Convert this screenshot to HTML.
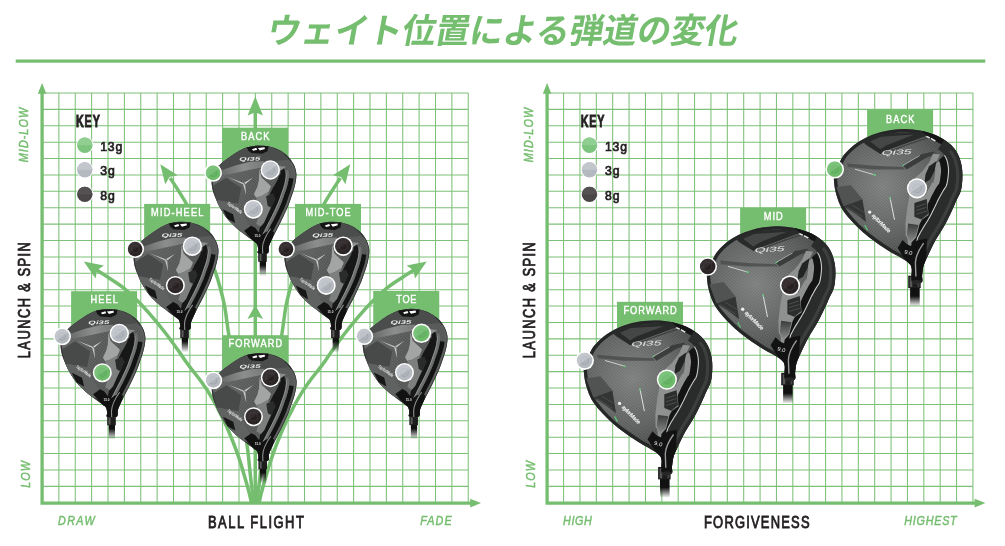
<!DOCTYPE html>
<html lang="ja"><head><meta charset="utf-8"><title>ウェイト位置による弾道の変化</title>
<style>
html,body{margin:0;padding:0;background:#fff;}
svg{display:block;font-family:"Liberation Sans",sans-serif;will-change:transform;}
</style></head><body>
<svg width="1005" height="546" viewBox="0 0 1005 546">
<defs>

<pattern id="cf" width="2.2" height="2.2" patternUnits="userSpaceOnUse" patternTransform="rotate(38)"><rect width="1.1" height="1.1" fill="#fff" opacity=".09"/><rect x="1.1" y="1.1" width="1.1" height="1.1" fill="#000" opacity=".1"/></pattern>
<linearGradient id="shaftfade" x1="0" y1="0" x2="0" y2="1"><stop offset="0" stop-color="#111"/><stop offset=".55" stop-color="#111"/><stop offset="1" stop-color="#111" stop-opacity="0"/></linearGradient>
<linearGradient id="shaftfade2" x1="0" y1="0" x2="0" y2="1"><stop offset="0" stop-color="#111"/><stop offset=".6" stop-color="#111"/><stop offset="1" stop-color="#111" stop-opacity="0"/></linearGradient>
<linearGradient id="fwbody" gradientUnits="userSpaceOnUse" x1="-10" y1="40" x2="75" y2="70"><stop offset="0" stop-color="#676a69"/><stop offset=".5" stop-color="#585b5a"/><stop offset="1" stop-color="#555857"/></linearGradient>
<linearGradient id="fwband" gradientUnits="userSpaceOnUse" x1="0" y1="45" x2="44" y2="35"><stop offset="0" stop-color="#6a6d6c"/><stop offset=".5" stop-color="#8b8e8d"/><stop offset="1" stop-color="#747776"/></linearGradient>
<radialGradient id="drbody" gradientUnits="userSpaceOnUse" cx="16" cy="76" r="76"><stop offset="0" stop-color="#808381"/><stop offset=".6" stop-color="#636664"/><stop offset="1" stop-color="#4b4d4c"/></radialGradient>
<linearGradient id="drrec" x1="0" y1="0" x2="0" y2="1"><stop offset="0" stop-color="#3a3b3b"/><stop offset="1" stop-color="#8a8c8b"/></linearGradient>
<g id="fw"><clipPath id="fwc"><path d="M-10.5 50C-10.1 47.08 -8.88 44.67 -7.5 42.5C-6.12 40.33 -4.37 38.93 -2.2 37C-0.03 35.07 2.75 32.93 5.5 30.9C8.25 28.87 11.18 26.63 14.3 24.8C17.42 22.97 20.73 21.05 24.2 19.9C27.67 18.75 31.45 18.12 35.1 17.9C38.75 17.68 42.43 17.85 46.1 18.6C49.77 19.35 53.8 20.72 57.1 22.4C60.4 24.08 63.52 26.37 65.9 28.7C68.28 31.03 70.02 33.65 71.4 36.4C72.78 39.15 73.83 42.27 74.2 45.2C74.57 48.13 74.02 51.2 73.6 54C73.18 56.8 72.42 59.5 71.7 62C70.98 64.5 70.17 66.5 69.3 69C68.43 71.5 67.55 74.32 66.5 77C65.45 79.68 64.25 82.35 63 85.1C61.75 87.85 60.33 90.82 59 93.5C57.67 96.18 56.2 98.87 55 101.2C53.8 103.53 52.78 105.53 51.8 107.5C50.82 109.47 49.93 111.17 49.1 113C48.27 114.83 47.38 116.42 46.8 118.5C46.22 120.58 47.38 124.33 45.6 125.5C43.82 126.67 37.68 126.08 36.1 125.5C34.52 124.92 36.28 123.5 36.1 122C35.92 120.5 35.82 117.97 35 116.5C34.18 115.03 32.93 114.57 31.2 113.2C29.47 111.83 27.42 110.47 24.6 108.3C21.78 106.13 17.48 103.02 14.3 100.2C11.12 97.38 8.25 94.8 5.5 91.4C2.75 88 -0.08 83.57 -2.2 79.8C-4.32 76.03 -5.92 72.1 -7.2 68.8C-8.48 65.5 -9.35 63.13 -9.9 60C-10.45 56.87 -10.9 52.92 -10.5 50Z"/></clipPath><rect x="37.6" y="124" width="6.3" height="24.5" fill="url(#shaftfade)"/><rect x="36.1" y="125.3" width="8.6" height="8.8" fill="#1d1d1d"/><rect x="37.4" y="126.3" width="2" height="7" fill="#5a5a5a"/><path d="M-10.5 50C-10.1 47.08 -8.88 44.67 -7.5 42.5C-6.12 40.33 -4.37 38.93 -2.2 37C-0.03 35.07 2.75 32.93 5.5 30.9C8.25 28.87 11.18 26.63 14.3 24.8C17.42 22.97 20.73 21.05 24.2 19.9C27.67 18.75 31.45 18.12 35.1 17.9C38.75 17.68 42.43 17.85 46.1 18.6C49.77 19.35 53.8 20.72 57.1 22.4C60.4 24.08 63.52 26.37 65.9 28.7C68.28 31.03 70.02 33.65 71.4 36.4C72.78 39.15 73.83 42.27 74.2 45.2C74.57 48.13 74.02 51.2 73.6 54C73.18 56.8 72.42 59.5 71.7 62C70.98 64.5 70.17 66.5 69.3 69C68.43 71.5 67.55 74.32 66.5 77C65.45 79.68 64.25 82.35 63 85.1C61.75 87.85 60.33 90.82 59 93.5C57.67 96.18 56.2 98.87 55 101.2C53.8 103.53 52.78 105.53 51.8 107.5C50.82 109.47 49.93 111.17 49.1 113C48.27 114.83 47.38 116.42 46.8 118.5C46.22 120.58 47.38 124.33 45.6 125.5C43.82 126.67 37.68 126.08 36.1 125.5C34.52 124.92 36.28 123.5 36.1 122C35.92 120.5 35.82 117.97 35 116.5C34.18 115.03 32.93 114.57 31.2 113.2C29.47 111.83 27.42 110.47 24.6 108.3C21.78 106.13 17.48 103.02 14.3 100.2C11.12 97.38 8.25 94.8 5.5 91.4C2.75 88 -0.08 83.57 -2.2 79.8C-4.32 76.03 -5.92 72.1 -7.2 68.8C-8.48 65.5 -9.35 63.13 -9.9 60C-10.45 56.87 -10.9 52.92 -10.5 50Z" fill="url(#fwbody)"/><path d="M-10.5 50C-10.1 47.08 -8.88 44.67 -7.5 42.5C-6.12 40.33 -4.37 38.93 -2.2 37C-0.03 35.07 2.75 32.93 5.5 30.9C8.25 28.87 11.18 26.63 14.3 24.8C17.42 22.97 20.73 21.05 24.2 19.9C27.67 18.75 31.45 18.12 35.1 17.9C38.75 17.68 42.43 17.85 46.1 18.6C49.77 19.35 53.8 20.72 57.1 22.4C60.4 24.08 63.52 26.37 65.9 28.7C68.28 31.03 70.02 33.65 71.4 36.4C72.78 39.15 73.83 42.27 74.2 45.2C74.57 48.13 74.02 51.2 73.6 54C73.18 56.8 72.42 59.5 71.7 62C70.98 64.5 70.17 66.5 69.3 69C68.43 71.5 67.55 74.32 66.5 77C65.45 79.68 64.25 82.35 63 85.1C61.75 87.85 60.33 90.82 59 93.5C57.67 96.18 56.2 98.87 55 101.2C53.8 103.53 52.78 105.53 51.8 107.5C50.82 109.47 49.93 111.17 49.1 113C48.27 114.83 47.38 116.42 46.8 118.5C46.22 120.58 47.38 124.33 45.6 125.5C43.82 126.67 37.68 126.08 36.1 125.5C34.52 124.92 36.28 123.5 36.1 122C35.92 120.5 35.82 117.97 35 116.5C34.18 115.03 32.93 114.57 31.2 113.2C29.47 111.83 27.42 110.47 24.6 108.3C21.78 106.13 17.48 103.02 14.3 100.2C11.12 97.38 8.25 94.8 5.5 91.4C2.75 88 -0.08 83.57 -2.2 79.8C-4.32 76.03 -5.92 72.1 -7.2 68.8C-8.48 65.5 -9.35 63.13 -9.9 60C-10.45 56.87 -10.9 52.92 -10.5 50Z" fill="url(#cf)"/><g clip-path="url(#fwc)"><path d="M-10.5 50C-10.1 47.08 -8.88 44.67 -7.5 42.5C-6.12 40.33 -4.37 38.93 -2.2 37C-0.03 35.07 2.75 32.93 5.5 30.9C8.25 28.87 11.18 26.63 14.3 24.8C17.42 22.97 20.73 21.05 24.2 19.9C27.67 18.75 31.45 18.12 35.1 17.9C38.75 17.68 42.43 17.85 46.1 18.6C49.77 19.35 53.8 20.72 57.1 22.4C60.4 24.08 63.52 26.37 65.9 28.7C68.28 31.03 70.02 33.65 71.4 36.4C72.78 39.15 73.83 42.27 74.2 45.2C74.57 48.13 74.02 51.2 73.6 54C73.18 56.8 72.42 59.5 71.7 62C70.98 64.5 70.17 66.5 69.3 69C68.43 71.5 67.55 74.32 66.5 77C65.45 79.68 64.25 82.35 63 85.1C61.75 87.85 60.33 90.82 59 93.5C57.67 96.18 56.2 98.87 55 101.2C53.8 103.53 52.78 105.53 51.8 107.5C50.82 109.47 49.93 111.17 49.1 113C48.27 114.83 47.38 116.42 46.8 118.5C46.22 120.58 47.38 124.33 45.6 125.5C43.82 126.67 37.68 126.08 36.1 125.5C34.52 124.92 36.28 123.5 36.1 122C35.92 120.5 35.82 117.97 35 116.5C34.18 115.03 32.93 114.57 31.2 113.2C29.47 111.83 27.42 110.47 24.6 108.3C21.78 106.13 17.48 103.02 14.3 100.2C11.12 97.38 8.25 94.8 5.5 91.4C2.75 88 -0.08 83.57 -2.2 79.8C-4.32 76.03 -5.92 72.1 -7.2 68.8C-8.48 65.5 -9.35 63.13 -9.9 60C-10.45 56.87 -10.9 52.92 -10.5 50Z" fill="none" stroke="#343635" stroke-width="2.8"/><path d="M-4 38L10 26L26 19L46 18L60 24L66 32L56 33L38 34L18 40L2 46Z" fill="#4a4d4c"/><path d="M-2 43L14 37.5L28 34L42 33.5L43 39L28 42L12 45.5L0 47.5Z" fill="url(#fwband)"/><path d="M-9 58L4 50L19 60L16 76L4 74L-6 72Z" fill="#474a49"/><path d="M-8 72L4 74L16 76L24 92L32 108L20 106L4 92Z" fill="#5f6261"/><path d="M68.99 33.87L69.98 35.34L70.78 36.72L71.42 38.09L72.01 39.5L72.52 40.95L72.94 42.4L73.27 43.85L73.5 45.28L73.61 46.7L73.6 48.14L73.5 49.58L73.33 51.04L73.12 52.48L72.91 53.89L72.68 55.26L72.4 56.61L72.08 57.94L71.74 59.26L71.39 60.54L71.03 61.8L70.67 63L70.29 64.15L69.9 65.27L69.49 66.39L69.07 67.55L68.64 68.77L68.2 70.05L67.76 71.37L67.31 72.7L66.84 74.06L66.36 75.41L65.85 76.75L65.32 78.08L64.76 79.41L64.18 80.75L63.59 82.09L62.98 83.44L62.36 84.81L61.73 86.2L61.07 87.61L60.4 89.02L59.72 90.44L59.04 91.83L58.37 93.19L57.7 94.52L57.02 95.85L56.33 97.16L55.65 98.44L55 99.68L54.38 100.88L53.79 102.02L53.23 103.12L52.69 104.17L52.18 105.2L51.67 106.2L51.17 107.19L50.69 108.15L50.22 109.08L49.77 109.99L49.32 110.89L48.89 111.79L48.47 112.7L48.05 113.6L47.63 114.48L47.22 115.37L46.82 116.29L46.45 117.27L46.12 118.32L45.84 119.52L45.58 120.86L43.61 120.52L43.88 119.1L44.2 117.79L44.56 116.62L44.97 115.55L45.39 114.56L45.82 113.63L46.24 112.75L46.65 111.86L47.08 110.94L47.52 110.01L47.98 109.1L48.44 108.18L48.9 107.25L49.39 106.29L49.88 105.3L50.39 104.29L50.91 103.26L51.45 102.21L52.01 101.11L52.6 99.96L53.23 98.75L53.89 97.5L54.56 96.22L55.24 94.92L55.92 93.61L56.58 92.29L57.25 90.95L57.92 89.57L58.59 88.16L59.26 86.76L59.91 85.36L60.54 83.98L61.16 82.62L61.76 81.28L62.35 79.95L62.92 78.63L63.46 77.32L63.98 76.02L64.48 74.71L64.95 73.39L65.41 72.06L65.86 70.73L66.31 69.41L66.75 68.11L67.19 66.88L67.61 65.71L68.01 64.6L68.4 63.5L68.76 62.4L69.11 61.24L69.46 60L69.81 58.74L70.14 57.46L70.45 56.18L70.71 54.89L70.93 53.57L71.14 52.19L71.34 50.78L71.51 49.4L71.6 48.06L71.61 46.77L71.52 45.52L71.31 44.24L71.01 42.91L70.61 41.56L70.14 40.22L69.59 38.89L69.01 37.65L68.29 36.4L67.36 35.03Z" fill="#5d5f5e"/><path d="M71.34 50.78L71.14 52.19L70.93 53.57L70.71 54.89L70.45 56.18L70.14 57.46L69.81 58.74L69.46 60L69.11 61.24L68.76 62.4L68.4 63.5L68.01 64.6L67.61 65.71L67.19 66.88L66.75 68.11L66.31 69.41L65.86 70.73L65.41 72.06L64.95 73.39L64.48 74.71L63.98 76.02L63.46 77.32L62.92 78.63L62.35 79.95L61.76 81.28L61.16 82.62L60.54 83.98L59.91 85.36L59.26 86.76L58.59 88.16L57.92 89.57L57.25 90.95L56.58 92.29L55.92 93.61L55.24 94.92L54.56 96.22L53.89 97.5L53.23 98.75L52.6 99.96L52.01 101.11L51.45 102.21L50.91 103.26L50.39 104.29L49.88 105.3L49.39 106.29L48.9 107.25L48.44 108.18L47.98 109.1L47.52 110.01L47.08 110.94L46.65 111.86L46.24 112.75L45.82 113.63L45.39 114.56L44.97 115.55L44.56 116.62L44.2 117.79L43.88 119.1L43.61 120.52L43.39 121.94L43.2 123.25L43.05 124.33L42.93 125.1L38.28 124.39L38.39 123.66L38.54 122.59L38.74 121.23L38.98 119.71L39.28 118.13L39.66 116.55L40.12 115.08L40.61 113.79L41.1 112.64L41.56 111.63L41.99 110.75L42.39 109.88L42.83 108.93L43.3 107.96L43.77 107.01L44.24 106.07L44.71 105.14L45.19 104.18L45.68 103.19L46.2 102.17L46.72 101.14L47.26 100.07L47.83 98.97L48.43 97.8L49.06 96.58L49.73 95.31L50.4 94.04L51.07 92.76L51.73 91.48L52.38 90.2L53.03 88.88L53.69 87.52L54.35 86.14L55.01 84.76L55.65 83.39L56.27 82.03L56.87 80.69L57.47 79.37L58.04 78.07L58.59 76.79L59.11 75.54L59.61 74.31L60.07 73.09L60.52 71.83L60.97 70.54L61.41 69.22L61.86 67.9L62.31 66.57L62.76 65.29L63.19 64.11L63.58 63.02L63.95 61.99L64.28 60.99L64.6 59.92L64.94 58.74L65.27 57.52L65.58 56.33L65.86 55.16L66.09 54.03L66.29 52.83L66.49 51.5L66.68 50.18Z" fill="#131313"/><path d="M65.75 41.89L66.14 43L66.46 44.09L66.7 45.14L66.85 46.07L66.92 46.93L66.91 47.87L66.83 48.96L66.68 50.18L66.49 51.5L66.29 52.83L66.09 54.03L65.86 55.16L65.58 56.33L65.27 57.52L64.94 58.74L64.6 59.92L64.28 60.99L63.95 61.99L63.58 63.02L63.19 64.11L62.76 65.29L62.31 66.57L61.86 67.9L61.41 69.22L60.97 70.54L60.52 71.83L60.07 73.09L59.61 74.31L59.11 75.54L58.59 76.79L58.04 78.07L57.47 79.37L56.87 80.69L56.27 82.03L55.65 83.39L55.01 84.76L54.35 86.14L53.69 87.52L53.03 88.88L52.38 90.2L51.73 91.48L51.07 92.76L50.4 94.04L49.73 95.31L49.06 96.58L48.43 97.8L47.83 98.97L47.26 100.07L46.72 101.14L46.2 102.17L45.68 103.19L45.19 104.18L44.71 105.14L44.24 106.07L43.77 107.01L43.3 107.96L42.83 108.93L42.39 109.88L41.99 110.75L41.56 111.63L41.1 112.64L40.61 113.79L40.12 115.08L39.66 116.55L39.28 118.13L38.98 119.71L38.74 121.23L38.54 122.59L38.39 123.66L38.28 124.39L35.12 123.91L35.23 123.2L35.38 122.14L35.58 120.75L35.83 119.17L36.15 117.46L36.58 115.7L37.09 114.04L37.64 112.6L38.17 111.34L38.67 110.27L39.09 109.38L39.49 108.53L39.94 107.57L40.42 106.56L40.9 105.58L41.38 104.63L41.85 103.7L42.33 102.75L42.82 101.75L43.34 100.73L43.87 99.69L44.41 98.61L44.98 97.51L45.58 96.34L46.23 95.09L46.9 93.82L47.57 92.55L48.23 91.28L48.88 90.02L49.51 88.77L50.15 87.47L50.81 86.13L51.46 84.77L52.11 83.4L52.74 82.04L53.36 80.7L53.96 79.37L54.55 78.06L55.11 76.79L55.64 75.54L56.15 74.33L56.62 73.15L57.07 71.98L57.5 70.77L57.94 69.51L58.38 68.2L58.83 66.87L59.29 65.52L59.75 64.22L60.18 63.02L60.57 61.95L60.92 60.96L61.23 60.02L61.53 59.02L61.85 57.87L62.18 56.7L62.47 55.56L62.73 54.47L62.95 53.44L63.13 52.32L63.33 51.04L63.51 49.77L63.64 48.66L63.71 47.74L63.72 47.03L63.67 46.45L63.56 45.75L63.36 44.9L63.09 43.99L62.76 43.04Z" fill="#6b6e6d"/><path d="M60.92 39.6L61.59 40.59L62.01 41.32L62.37 42.08L62.76 43.04L63.09 43.99L63.36 44.9L63.56 45.75L63.67 46.45L63.72 47.03L63.71 47.74L63.64 48.66L63.51 49.77L63.33 51.04L63.13 52.32L62.95 53.44L62.73 54.47L62.47 55.56L62.18 56.7L61.85 57.87L61.53 59.02L61.23 60.02L60.92 60.96L60.57 61.95L60.18 63.02L59.75 64.22L59.29 65.52L58.83 66.87L58.38 68.2L57.94 69.51L57.5 70.77L57.07 71.98L56.62 73.15L56.15 74.33L55.64 75.54L55.11 76.79L54.55 78.06L53.96 79.37L53.36 80.7L52.74 82.04L52.11 83.4L51.46 84.77L50.81 86.13L50.15 87.47L49.51 88.77L48.88 90.02L48.23 91.28L47.57 92.55L46.9 93.82L46.23 95.09L45.58 96.34L44.98 97.51L44.41 98.61L43.87 99.69L43.34 100.73L42.82 101.75L42.33 102.75L41.85 103.7L41.38 104.63L40.9 105.58L40.42 106.56L39.94 107.57L39.49 108.53L39.09 109.38L38.67 110.27L38.17 111.34L37.64 112.6L37.18 112.41L36.85 110.75L36.78 109.39L36.73 108.27L36.7 107.23L36.77 106.07L36.93 104.86L37.09 103.69L37.27 102.57L37.45 101.49L37.64 100.4L37.87 99.26L38.13 98.1L38.41 96.92L38.72 95.71L39.06 94.47L39.44 93.16L39.87 91.77L40.33 90.37L40.79 88.98L41.23 87.63L41.64 86.33L42.04 85.04L42.45 83.7L42.88 82.3L43.32 80.89L43.75 79.47L44.17 78.08L44.58 76.7L44.98 75.32L45.36 73.98L45.71 72.69L46.03 71.47L46.3 70.3L46.53 69.22L46.76 68.18L47.32 67.18L47.91 66.08L48.52 64.88L49.16 63.59L49.83 62.23L50.51 60.91L51.15 59.76L51.72 58.8L52.22 58L52.67 57.32L53.13 56.55L53.64 55.57L54.15 54.55L54.63 53.62L55.07 52.78L55.47 52.03L55.86 51.16L56.28 50L56.7 48.88L57.06 48.04L57.38 47.49L57.66 47.24L57.94 47.13L58.18 46.81L58.35 46.21L58.47 45.48L58.53 44.65L58.54 43.77L58.63 43.08L58.7 42.4L58.48 41.32Z" fill="#171717"/><path d="M63.75 44.8L63.95 45.68L64.07 46.4L64.12 47.02L64.11 47.76L64.04 48.7L63.91 49.82L63.72 51.1L63.53 52.39L63.34 53.51L63.12 54.56L62.86 55.66L62.57 56.8L62.24 57.98L61.91 59.13L61.61 60.14L61.29 61.09L60.95 62.08L60.56 63.16L60.13 64.35L59.67 65.65L59.2 67L58.76 68.33L58.32 69.63L57.88 70.9L57.44 72.12L57 73.3L56.52 74.48L56.01 75.7L55.48 76.95L54.91 78.23L54.32 79.54L53.72 80.87L53.1 82.21L52.47 83.57L51.82 84.94L51.17 86.3L50.51 87.65L49.87 88.95L49.24 90.2L48.59 91.46L47.92 92.73L47.25 94.01L46.58 95.28L45.94 96.52L45.34 97.69L44.77 98.8L44.22 99.87L43.7 100.91L43.18 101.93L42.68 102.93L42.2 103.88L41.73 104.81L41.26 105.76L40.78 106.73L40.3 107.74L39.85 108.7L39.45 109.55L39.03 110.44L38.54 111.5L38.01 112.74L37.47 114.17L36.96 115.81L36.54 117.55L36.22 119.24L35.97 120.81" fill="none" stroke="#9c9f9e" stroke-width=".8"/><path d="M22 103L29 98L33 100L36 104L40 107L44 104L52 104L48 130L34 130L34 116L30 112Z" fill="#121212"/><path d="M48.5 101C43.5 108 40.6 114 40.4 120L40.6 126" fill="none" stroke="#8e908f" stroke-width="1.1"/><path d="M37.3 41.4L39.5 49.7L46.6 56.3L48.8 58.5L46.6 64L39.5 68.4L34 70L31.8 66.2L35.1 59.6L36.7 53Z" fill="#a3a5a4"/><path d="M46.6 64L39.5 68.4L34 70L36 76L41 80L44 74Z" fill="#7d807f"/><path d="M55 38L64 39L58.5 43L57 41Z" fill="#8a8d8c"/><path d="M39.5 71L48.3 66.6L50.5 76.5L46 86L42 95L38.5 99L34 96L36 90Z" fill="#7c7f7e"/><path d="M44 68.5L51 65.5L53.5 71L49 80L45.5 78Z" fill="#2a2b2b"/><path d="M24.3 18.6L46.5 18.4L45.4 23.5L40 26L29.1 25.4L26 22.5Z" fill="#151515"/><path d="M29.8 21.6l4.4-1.5.9 1.9-4 1.1zM35.8 20.3l6.6-.8.4 1.9-5 1.4z" fill="#fff"/><path d="M21.4 55.3 6.2 49.6 20.8 56.6zM21.6 55.4 31 49.8 22.6 57zM20.8 55.8 24 67.6 22.9 55.4z" fill="#c6c9c8"/><path d="M0.7 81.5L10.9 86.6L13.1 95.4L5.1 91Z" fill="#171717"/><text x="17.2" y="33" font-size="5.2" font-weight="bold" font-style="italic" fill="#e9e9e9" textLength="21" lengthAdjust="spacingAndGlyphs" transform="rotate(-2 27 31)">Qi35</text><text font-size="4.6" font-weight="bold" font-style="italic" fill="#e6e6e6" textLength="17.5" lengthAdjust="spacingAndGlyphs" transform="translate(4.6 76.2) rotate(35)">TaylorMade</text><text x="32.4" y="109.6" font-size="3.6" font-weight="bold" fill="#ddd" textLength="6" lengthAdjust="spacingAndGlyphs">15.0</text></g></g><g id="dr"><clipPath id="drc"><path d="M-33 72C-33.28 68.67 -33.48 67.45 -32.5 64C-31.52 60.55 -28.75 54.67 -27.1 51.3C-25.45 47.93 -24.85 46.53 -22.6 43.8C-20.35 41.07 -17.08 37.63 -13.6 34.9C-10.12 32.17 -5.92 29.52 -1.7 27.4C2.52 25.28 6.97 23.57 11.7 22.2C16.43 20.83 21.72 19.78 26.7 19.2C31.68 18.62 36.63 18.45 41.6 18.7C46.57 18.95 51.53 19.5 56.5 20.7C61.47 21.9 66.92 23.67 71.4 25.9C75.88 28.13 80.17 31.12 83.4 34.1C86.63 37.08 88.93 40.2 90.8 43.8C92.67 47.4 93.85 51.72 94.6 55.7C95.35 59.68 95.43 63.65 95.3 67.7C95.17 71.75 94.8 76.28 93.8 80C92.8 83.72 90.78 86.68 89.3 90C87.82 93.32 86.88 95.75 84.9 99.9C82.92 104.05 80.15 109.92 77.4 114.9C74.65 119.88 71.13 124.83 68.4 129.8C65.67 134.77 62.98 140.48 61 144.7C59.02 148.92 57.5 151.72 56.5 155.1C55.5 158.48 55.32 162.18 55 165C54.68 167.82 56.27 170.83 54.6 172C52.93 173.17 46.67 174.33 45 172C43.33 169.67 45.17 161.23 44.6 158C44.03 154.77 43.6 154.5 41.6 152.6C39.6 150.7 35.83 148.58 32.6 146.6C29.37 144.62 26.18 143.18 22.2 140.7C18.22 138.22 13.18 134.93 8.7 131.7C4.22 128.47 -0.48 125.03 -4.7 121.3C-8.92 117.57 -13.12 113.28 -16.6 109.3C-20.08 105.32 -23.23 101.62 -25.6 97.4C-27.97 93.18 -29.57 88.23 -30.8 84C-32.03 79.77 -32.72 75.33 -33 72Z"/></clipPath><rect x="43" y="170" width="9.6" height="26" fill="url(#shaftfade2)"/><rect x="41.1" y="165.2" width="12.5" height="12.4" fill="#1c1c1c"/><rect x="42.6" y="166.6" width="2.6" height="10" fill="#585858"/><rect x="50.4" y="166.6" width="1.8" height="10" fill="#444"/><path d="M-33 72C-33.28 68.67 -33.48 67.45 -32.5 64C-31.52 60.55 -28.75 54.67 -27.1 51.3C-25.45 47.93 -24.85 46.53 -22.6 43.8C-20.35 41.07 -17.08 37.63 -13.6 34.9C-10.12 32.17 -5.92 29.52 -1.7 27.4C2.52 25.28 6.97 23.57 11.7 22.2C16.43 20.83 21.72 19.78 26.7 19.2C31.68 18.62 36.63 18.45 41.6 18.7C46.57 18.95 51.53 19.5 56.5 20.7C61.47 21.9 66.92 23.67 71.4 25.9C75.88 28.13 80.17 31.12 83.4 34.1C86.63 37.08 88.93 40.2 90.8 43.8C92.67 47.4 93.85 51.72 94.6 55.7C95.35 59.68 95.43 63.65 95.3 67.7C95.17 71.75 94.8 76.28 93.8 80C92.8 83.72 90.78 86.68 89.3 90C87.82 93.32 86.88 95.75 84.9 99.9C82.92 104.05 80.15 109.92 77.4 114.9C74.65 119.88 71.13 124.83 68.4 129.8C65.67 134.77 62.98 140.48 61 144.7C59.02 148.92 57.5 151.72 56.5 155.1C55.5 158.48 55.32 162.18 55 165C54.68 167.82 56.27 170.83 54.6 172C52.93 173.17 46.67 174.33 45 172C43.33 169.67 45.17 161.23 44.6 158C44.03 154.77 43.6 154.5 41.6 152.6C39.6 150.7 35.83 148.58 32.6 146.6C29.37 144.62 26.18 143.18 22.2 140.7C18.22 138.22 13.18 134.93 8.7 131.7C4.22 128.47 -0.48 125.03 -4.7 121.3C-8.92 117.57 -13.12 113.28 -16.6 109.3C-20.08 105.32 -23.23 101.62 -25.6 97.4C-27.97 93.18 -29.57 88.23 -30.8 84C-32.03 79.77 -32.72 75.33 -33 72Z" fill="url(#drbody)"/><path d="M-33 72C-33.28 68.67 -33.48 67.45 -32.5 64C-31.52 60.55 -28.75 54.67 -27.1 51.3C-25.45 47.93 -24.85 46.53 -22.6 43.8C-20.35 41.07 -17.08 37.63 -13.6 34.9C-10.12 32.17 -5.92 29.52 -1.7 27.4C2.52 25.28 6.97 23.57 11.7 22.2C16.43 20.83 21.72 19.78 26.7 19.2C31.68 18.62 36.63 18.45 41.6 18.7C46.57 18.95 51.53 19.5 56.5 20.7C61.47 21.9 66.92 23.67 71.4 25.9C75.88 28.13 80.17 31.12 83.4 34.1C86.63 37.08 88.93 40.2 90.8 43.8C92.67 47.4 93.85 51.72 94.6 55.7C95.35 59.68 95.43 63.65 95.3 67.7C95.17 71.75 94.8 76.28 93.8 80C92.8 83.72 90.78 86.68 89.3 90C87.82 93.32 86.88 95.75 84.9 99.9C82.92 104.05 80.15 109.92 77.4 114.9C74.65 119.88 71.13 124.83 68.4 129.8C65.67 134.77 62.98 140.48 61 144.7C59.02 148.92 57.5 151.72 56.5 155.1C55.5 158.48 55.32 162.18 55 165C54.68 167.82 56.27 170.83 54.6 172C52.93 173.17 46.67 174.33 45 172C43.33 169.67 45.17 161.23 44.6 158C44.03 154.77 43.6 154.5 41.6 152.6C39.6 150.7 35.83 148.58 32.6 146.6C29.37 144.62 26.18 143.18 22.2 140.7C18.22 138.22 13.18 134.93 8.7 131.7C4.22 128.47 -0.48 125.03 -4.7 121.3C-8.92 117.57 -13.12 113.28 -16.6 109.3C-20.08 105.32 -23.23 101.62 -25.6 97.4C-27.97 93.18 -29.57 88.23 -30.8 84C-32.03 79.77 -32.72 75.33 -33 72Z" fill="url(#cf)"/><g clip-path="url(#drc)"><path d="M-33 72C-33.28 68.67 -33.48 67.45 -32.5 64C-31.52 60.55 -28.75 54.67 -27.1 51.3C-25.45 47.93 -24.85 46.53 -22.6 43.8C-20.35 41.07 -17.08 37.63 -13.6 34.9C-10.12 32.17 -5.92 29.52 -1.7 27.4C2.52 25.28 6.97 23.57 11.7 22.2C16.43 20.83 21.72 19.78 26.7 19.2C31.68 18.62 36.63 18.45 41.6 18.7C46.57 18.95 51.53 19.5 56.5 20.7C61.47 21.9 66.92 23.67 71.4 25.9C75.88 28.13 80.17 31.12 83.4 34.1C86.63 37.08 88.93 40.2 90.8 43.8C92.67 47.4 93.85 51.72 94.6 55.7C95.35 59.68 95.43 63.65 95.3 67.7C95.17 71.75 94.8 76.28 93.8 80C92.8 83.72 90.78 86.68 89.3 90C87.82 93.32 86.88 95.75 84.9 99.9C82.92 104.05 80.15 109.92 77.4 114.9C74.65 119.88 71.13 124.83 68.4 129.8C65.67 134.77 62.98 140.48 61 144.7C59.02 148.92 57.5 151.72 56.5 155.1C55.5 158.48 55.32 162.18 55 165C54.68 167.82 56.27 170.83 54.6 172C52.93 173.17 46.67 174.33 45 172C43.33 169.67 45.17 161.23 44.6 158C44.03 154.77 43.6 154.5 41.6 152.6C39.6 150.7 35.83 148.58 32.6 146.6C29.37 144.62 26.18 143.18 22.2 140.7C18.22 138.22 13.18 134.93 8.7 131.7C4.22 128.47 -0.48 125.03 -4.7 121.3C-8.92 117.57 -13.12 113.28 -16.6 109.3C-20.08 105.32 -23.23 101.62 -25.6 97.4C-27.97 93.18 -29.57 88.23 -30.8 84C-32.03 79.77 -32.72 75.33 -33 72Z" fill="none" stroke="#252626" stroke-width="6.5"/><path d="M-30.8 76.7L-16.5 74.4L-4.6 88.7L-23.6 95.8Z" fill="#515352"/><path d="M-23.6 95.8L-4.6 88.7L-1 111.5L-8 106L-13.5 102Z" fill="#333534"/><path d="M-20 96.8-4.5 106.5M-15 94.5-3.6 101.5" stroke="#4d4f4e" stroke-width=".9"/><path d="M-20.1 52.9L7.3 55.3L35.9 56.5L38.3 58.9L7.3 58.9L-18.9 56.5Z" fill="#4b4d4c" opacity=".85"/><path d="M35.9 55.3L54.9 43.4L66.8 41L69.2 43.4L59.7 47L39.5 58.9Z" fill="#3b3d3c"/><path d="M-5.5 30.3L10.9 23.2L54 21.4L61.5 24.6L21 39.6L13.3 43.4L-0.4 34.8Z" fill="#292a2a"/><path d="M3 31L14 26.3L47 24.1L19.5 34.8L13.2 38.8Z" fill="#454746"/><path d="M24 40.2 42 33.5 67 25.2" fill="none" stroke="#3e403f" stroke-width="1.3"/><path d="M53.5 19.5L71.4 25.5L86 35.5L77.4 35.5L62.5 27.4Z" fill="#151515"/><path d="M59.5 25.3l3.6 1.4-.9 1.3-3.3-1.5zM64.2 27.3l4.6 2.6-1.2 1-4-2.4z" fill="#e6e6e6"/><path d="M72.09 50.48L72.43 51.25L72.76 52.08L73.02 52.89L73.21 53.67L73.38 54.56L73.57 55.64L73.74 56.87L73.9 58.21L73.99 59.48L74 60.55L73.95 61.6L73.86 62.75L73.74 64.03L73.57 65.44L73.37 66.98L73.14 68.56L72.88 70.09L72.58 71.48L72.27 72.65L71.95 73.53L71.7 73.9L71.54 73.88L71.28 74.05L70.76 74.74L69.93 75.98L68.8 77.83L67.57 80.03L66.53 81.98L65.68 83.53L64.9 84.93L64.21 86.27L63.56 87.7L62.76 89.42L61.75 91.53L60.63 93.86L59.46 96.26L58.27 98.64L57.09 100.94L55.99 102.99L54.89 104.9L53.62 106.98L52.14 109.33L50.54 111.98L49.06 115.03L47.59 118.25L46.25 121.43L45.03 124.5L44.63 127.83L44.46 131.09L44.42 134.14L44.52 136.9L44.74 139.38L44.99 141.79L45.24 144.26L45.51 146.81L45.86 149.43L46.29 152.19L46.91 154.97L47.74 157.57L48.71 159.88L49.77 161.87L50.88 163.47L52.02 164.64L50.53 164.46L49.19 163.28L47.86 161.67L46.6 159.62L45.43 157.21L44.42 154.45L43.65 151.43L43.07 148.44L42.59 145.6L42.17 142.87L41.76 140.26L41.32 137.75L40.91 135.18L40.62 132.34L40.48 129.18L40.47 125.8L40.72 122.32L41.78 119.09L43 115.7L44.36 112.25L45.73 109L47.17 106.21L48.52 103.82L49.73 101.84L50.75 100.08L51.78 98.15L52.92 95.93L54.08 93.6L55.23 91.25L56.34 88.93L57.33 86.85L58.11 85.19L58.72 83.83L59.4 82.54L60.17 81.16L61.03 79.58L62.11 77.53L63.42 75.17L64.59 73.24L65.38 72.07L65.8 71.61L65.9 71.82L65.92 72.31L66.07 72.33L66.33 71.75L66.62 70.81L66.9 69.61L67.15 68.24L67.38 66.78L67.57 65.37L67.74 64.12L67.87 63.05L67.97 62.13L68.05 61.36L68.09 60.56L68.04 59.51L67.94 58.39L67.83 57.41L67.74 56.61L67.7 56.05L67.68 55.62L67.58 55.12L67.44 54.58L67.3 54.1Z" fill="#8e9190"/><path d="M76.94 29.39L79.3 30.95L81.53 32.55L83.4 34.1L84.94 35.6L86.34 37.14L87.61 38.72L88.77 40.35L89.83 42.04L90.8 43.8L91.68 45.65L92.45 47.6L93.12 49.61L93.7 51.64L94.19 53.69L94.6 55.7L94.92 57.69L95.14 59.68L95.28 61.68L95.34 63.67L95.35 65.68L95.3 67.7L95.21 69.76L95.07 71.86L94.88 73.98L94.6 76.06L94.25 78.08L93.8 80L93.22 81.8L92.52 83.51L91.73 85.15L90.9 86.76L90.08 88.37L89.3 90L88.6 91.6L87.94 93.12L87.29 94.64L86.59 96.23L85.81 97.96L84.9 99.9L83.85 102.11L82.69 104.53L81.44 107.09L80.13 109.72L78.77 112.35L77.4 114.9L75.97 117.39L74.45 119.87L72.89 122.36L71.34 124.84L69.82 127.32L68.4 129.8L67.04 132.34L65.71 134.93L64.42 137.53L63.19 140.07L62.05 142.48L61 144.7L60.05 146.7L59.17 148.52L58.38 150.21L57.67 151.84L57.04 153.45L56.5 155.1L56.06 156.89L55.72 158.8L55.47 160.7L55.28 162.45L55.13 163.93L55 165L53.01 164.76L52.2 163.61L51.41 162.04L50.66 160.11L50 157.92L49.47 155.51L49.11 152.99L48.92 150.53L48.82 148.18L48.8 145.87L48.81 143.6L48.85 141.34L48.92 138.98L49.11 136.36L49.44 133.47L49.87 130.4L50.53 127.28L51.99 124.44L53.54 121.55L55.19 118.66L56.88 115.89L58.49 113.32L60 110.93L61.34 108.72L62.54 106.64L63.73 104.43L64.96 102.03L66.19 99.57L67.38 97.12L68.51 94.76L69.54 92.63L70.37 90.84L71.06 89.32L71.78 87.91L72.57 86.5L73.4 84.97L74.39 83.16L75.52 81.16L76.6 79.41L77.48 78.07L78.13 77.1L78.58 76.45L78.93 75.9L79.3 75.03L79.68 73.78L80.04 72.31L80.35 70.69L80.63 68.97L80.87 67.22L81.07 65.52L81.24 63.9L81.35 62.37L81.42 60.92L81.43 59.54L81.37 58.12L81.22 56.58L81 54.97L80.73 53.43L80.42 51.99L80.09 50.68L79.7 49.48L79.22 48.28L78.67 47.09L78.07 45.95L77.37 44.83L76.57 43.7L75.74 42.66L74.64 41.53L72.97 40.14L70.97 38.63Z" fill="#2a2b2b"/><path d="M83.91 39.22L85.06 40.65L86.11 42.12L87.07 43.66L87.95 45.26L88.74 46.93L89.44 48.7L90.06 50.55L90.6 52.46L91.06 54.38L91.45 56.28L91.75 58.12L91.96 59.97L92.09 61.84L92.14 63.73L92.15 65.65L92.1 67.59L92.02 69.59L91.88 71.61L91.69 73.62L91.44 75.58L91.11 77.44L90.72 79.15L90.22 80.7L89.6 82.21L88.87 83.73L88.06 85.3L87.21 86.95L86.39 88.67L85.66 90.32L85 91.85L84.35 93.36L83.67 94.93L82.91 96.62L82.01 98.53L80.96 100.72L79.8 103.13L78.57 105.67L77.27 108.27L75.94 110.86L74.6 113.34L73.22 115.76L71.73 118.19L70.18 120.66L68.62 123.15L67.07 125.69L65.6 128.25L64.21 130.85L62.85 133.49L61.55 136.12L60.31 138.68L59.15 141.11L58.11 143.33L57.16 145.32L56.28 147.15L55.47 148.89L54.71 150.61L54.03 152.37L53.42 154.22L50.35 153.34L51.02 151.29L51.76 149.39L52.55 147.57L53.39 145.78L54.27 143.94L55.22 141.96L56.26 139.74L57.42 137.3L58.67 134.72L59.99 132.05L61.37 129.36L62.8 126.69L64.32 124.06L65.89 121.47L67.47 118.95L69.01 116.51L70.46 114.13L71.81 111.79L73.11 109.37L74.42 106.83L75.7 104.26L76.92 101.74L78.07 99.34L79.12 97.16L80 95.28L80.74 93.63L81.42 92.09L82.06 90.59L82.73 89.04L83.48 87.33L84.34 85.53L85.21 83.83L86 82.3L86.67 80.9L87.21 79.6L87.63 78.3L87.98 76.8L88.28 75.09L88.51 73.26L88.69 71.35L88.82 69.41L88.9 67.49L88.95 65.61L88.95 63.78L88.89 62L88.77 60.26L88.58 58.56L88.3 56.85L87.94 55.08L87.51 53.27L87 51.49L86.44 49.79L85.81 48.2L85.1 46.71L84.31 45.28L83.45 43.9L82.51 42.58L81.48 41.31Z" fill="#3d3f3e"/><path d="M77.37 44.83L78.07 45.95L78.67 47.09L79.22 48.28L79.7 49.48L80.09 50.68L80.42 51.99L80.73 53.43L81 54.97L81.22 56.58L81.37 58.12L81.43 59.54L81.42 60.92L81.35 62.37L81.24 63.9L81.07 65.52L80.87 67.22L80.63 68.97L80.35 70.69L80.04 72.31L79.68 73.78L79.3 75.03L78.93 75.9L78.58 76.45L78.13 77.1L77.48 78.07L76.6 79.41L75.52 81.16L74.39 83.16L73.4 84.97L72.57 86.5L71.78 87.91L71.06 89.32L70.37 90.84L69.54 92.63L68.51 94.76L67.38 97.12L66.19 99.57L64.96 102.03L63.73 104.43L62.54 106.64L61.34 108.72L60 110.93L58.49 113.32L56.88 115.89L55.19 118.66L53.54 121.55L51.99 124.44L50.53 127.28L49.87 130.4L49.44 133.47L49.11 136.36L48.92 138.98L48.85 141.34L48.81 143.6L48.8 145.87L48.82 148.18L48.92 150.53L49.11 152.99L49.47 155.51L50 157.92L50.66 160.11L51.41 162.04L52.2 163.61L53.01 164.76L52.02 164.64L50.88 163.47L49.77 161.87L48.71 159.88L47.74 157.57L46.91 154.97L46.29 152.19L45.86 149.43L45.51 146.81L45.24 144.26L44.99 141.79L44.74 139.38L44.52 136.9L44.42 134.14L44.46 131.09L44.63 127.83L45.03 124.5L46.25 121.43L47.59 118.25L49.06 115.03L50.54 111.98L52.14 109.33L53.62 106.98L54.89 104.9L55.99 102.99L57.09 100.94L58.27 98.64L59.46 96.26L60.63 93.86L61.75 91.53L62.76 89.42L63.56 87.7L64.21 86.27L64.9 84.93L65.68 83.53L66.53 81.98L67.57 80.03L68.8 77.83L69.93 75.98L70.76 74.74L71.28 74.05L71.54 73.88L71.7 73.9L71.95 73.53L72.27 72.65L72.58 71.48L72.88 70.09L73.14 68.56L73.37 66.98L73.57 65.44L73.74 64.03L73.86 62.75L73.95 61.6L74 60.55L73.99 59.48L73.9 58.21L73.74 56.87L73.57 55.64L73.38 54.56L73.21 53.67L73.02 52.89L72.76 52.08L72.43 51.25L72.09 50.48L71.68 49.71Z" fill="#141414"/><path d="M77.37 44.83L78.07 45.95L78.67 47.09L79.22 48.28L79.7 49.48L80.09 50.68L80.42 51.99L80.73 53.43L81 54.97L81.22 56.58L81.37 58.12L81.43 59.54L81.42 60.92L81.35 62.37L81.24 63.9L81.07 65.52L80.87 67.22L80.63 68.97L80.35 70.69L80.04 72.31L79.68 73.78L79.3 75.03L78.93 75.9L78.58 76.45L78.13 77.1L77.48 78.07L76.6 79.41L75.52 81.16L74.39 83.16L73.4 84.97L72.57 86.5L71.78 87.91L71.06 89.32L70.37 90.84L69.54 92.63L68.51 94.76L67.38 97.12L66.19 99.57L64.96 102.03L63.73 104.43L62.54 106.64L61.34 108.72L60 110.93L58.49 113.32L56.88 115.89L55.19 118.66L53.54 121.55L51.99 124.44L50.53 127.28L49.87 130.4L49.44 133.47L49.11 136.36L48.92 138.98L48.85 141.34L48.81 143.6L48.8 145.87L48.82 148.18L48.92 150.53L49.11 152.99L49.47 155.51L50 157.92L50.66 160.11L51.41 162.04" fill="none" stroke="#c9cbca" stroke-width="1.1"/><path d="M66 43L73 44L66 58L58.5 70.1L54.9 79.1L60 88L61.5 104.5L55 109L52.5 113.5L49 127L43.5 133L38.6 125L38.3 112.5L40.2 97L41.8 88L45.4 69.6L54.9 61.3L62.1 51.7Z" fill="#8e9190"/><path d="M62.1 55.8L69.5 50.4L67.5 60L63 69L57.3 72.4L58.5 63.5Z" fill="#222323"/><path d="M47.3 92.5L59.6 88.4L61 103.5L54.2 109L47.3 106.3Z" fill="#2b2c2c"/><path d="M49 96.5 58.8 93.2M49 100 59.3 96.8M49.2 103.5 59.6 100.6" stroke="#565857" stroke-width=".8"/><path d="M41 113.1L51.4 114.5L48.3 126.5L42.6 131.6L39.8 124.1Z" fill="url(#drrec)"/><path d="M30.5 137.5L35.5 129.5L39.5 133.5L43.5 135.5L50 130L60 128L58 170L40 170L40.5 152L36 146Z" fill="#121212"/><path d="M56.5 132.7C52 139 48.6 145 48.3 152L48.8 166" fill="none" stroke="#9a9c9b" stroke-width="1.4"/><path d="M-12.1 58.7 8.7 64.7" stroke="#d6dad7" stroke-width=".9"/><path d="M6 64 8.9 64.8" stroke="#5fc27a" stroke-width="1.3"/><path d="M36.5 54.5 52.5 45.2" stroke="#b9bcba" stroke-width=".8"/><path d="M35.4 55.2 37.4 54" stroke="#5fc27a" stroke-width="1.3"/><path d="M22.9 86.9 27.4 109.3" stroke="#dfe1e0" stroke-width="1"/><path d="M22.8 86.5 23.3 89" stroke="#5fc27a" stroke-width="1.3"/><path d="M-2.4 114.6 .5 119.8" stroke="#5fc27a" stroke-width="1.3"/><text x="14.6" y="44" font-size="6.8" font-style="italic" fill="#e6e6e6" textLength="30" lengthAdjust="spacingAndGlyphs" transform="rotate(-3 30 44)">Qi35</text><circle cx="2.6" cy="101.6" r="1.7" fill="#eee"/><text font-size="5.4" font-style="italic" fill="#f2f2f2" stroke="#f2f2f2" stroke-width=".2" textLength="24" lengthAdjust="spacingAndGlyphs" transform="translate(4.4 105.6) rotate(45)">aylorMade</text><text x="37.4" y="143.6" font-size="5.4" fill="#e8e8e8" textLength="8.2" lengthAdjust="spacingAndGlyphs" transform="rotate(14 41 141)">9.0</text></g></g>
</defs>
<rect width="1005" height="546" fill="#fff"/>
<text transform="translate(262.6 42.8) skewX(-10.5)" x="3" y="0" font-family="&quot;Liberation Sans&quot;,&quot;Noto Sans CJK JP&quot;,sans-serif" font-size="34.6" font-weight="bold" fill="#75bd6f" textLength="471" lengthAdjust="spacingAndGlyphs">ウェイト位置による弾道の変化</text>
<rect x="15.7" y="59.5" width="969.6" height="3.2" fill="#75bd6f"/>
<path d="M58.88 93V502.75M75.25 93V502.75M91.62 93V502.75M108 93V502.75M124.38 93V502.75M140.75 93V502.75M157.12 93V502.75M173.5 93V502.75M189.88 93V502.75M206.25 93V502.75M222.62 93V502.75M239 93V502.75M255.38 93V502.75M271.75 93V502.75M288.12 93V502.75M304.5 93V502.75M320.88 93V502.75M337.25 93V502.75M353.62 93V502.75M370 93V502.75M386.38 93V502.75M402.75 93V502.75M419.12 93V502.75M435.5 93V502.75M451.88 93V502.75M468.25 93V502.75M42.5 93H468.25M42.5 109.39H468.25M42.5 125.78H468.25M42.5 142.17H468.25M42.5 158.56H468.25M42.5 174.95H468.25M42.5 191.34H468.25M42.5 207.73H468.25M42.5 224.12H468.25M42.5 240.51H468.25M42.5 256.9H468.25M42.5 273.29H468.25M42.5 289.68H468.25M42.5 306.07H468.25M42.5 322.46H468.25M42.5 338.85H468.25M42.5 355.24H468.25M42.5 371.63H468.25M42.5 388.02H468.25M42.5 404.41H468.25M42.5 420.8H468.25M42.5 437.19H468.25M42.5 453.58H468.25M42.5 469.97H468.25M42.5 486.36H468.25" fill="none" stroke="#7dc178" stroke-width="1.05"/>
<path d="M255.28 503.05V108" stroke="#75bd6f" stroke-width="3.5"/>
<path d="M255.28 96.5L262.98 115.5L255.28 112.3L247.58 115.5Z" fill="#75bd6f"/>
<path d="M255.28 304.9L263.07 318.9L255.28 316L247.47 318.9Z" fill="#75bd6f"/>
<path d="M251.6 503.2C250.95 500.55 249.92 495.15 247.7 487.3C245.48 479.45 241.83 466.27 238.3 456.1C234.77 445.93 230.05 434.48 226.5 426.3C222.95 418.12 220.03 412.73 217 407C213.97 401.27 211.22 396.52 208.3 391.9C205.38 387.28 202.92 383.9 199.5 379.3C196.08 374.7 191.45 369.25 187.8 364.3C184.15 359.35 181.27 354.73 177.6 349.6C173.93 344.47 169.95 338.87 165.8 333.5C161.65 328.13 157.33 322.77 152.7 317.4C148.07 312.03 143.13 306.43 138 301.3C132.87 296.17 127.52 291 121.9 286.6C116.28 282.2 108.95 277.97 104.3 274.9C99.65 271.83 95.72 269.32 94 268.2" fill="none" stroke="#75bd6f" stroke-width="3.5"/>
<path d="M258.95 503.2C259.6 500.55 260.63 495.15 262.85 487.3C265.07 479.45 268.72 466.27 272.25 456.1C275.78 445.93 280.5 434.48 284.05 426.3C287.6 418.12 290.52 412.73 293.55 407C296.58 401.27 299.33 396.52 302.25 391.9C305.17 387.28 307.63 383.9 311.05 379.3C314.47 374.7 319.1 369.25 322.75 364.3C326.4 359.35 329.28 354.73 332.95 349.6C336.62 344.47 340.6 338.87 344.75 333.5C348.9 328.13 353.22 322.77 357.85 317.4C362.48 312.03 367.42 306.43 372.55 301.3C377.68 296.17 383.03 291 388.65 286.6C394.27 282.2 401.6 277.97 406.25 274.9C410.9 271.83 414.83 269.32 416.55 268.2" fill="none" stroke="#75bd6f" stroke-width="3.5"/>
<path d="M83.8 261.6L103.93 265.46L97.07 270.18L95.57 278.39Z" fill="#75bd6f"/>
<path d="M426.75 261.6L414.98 278.39L413.48 270.18L406.62 265.46Z" fill="#75bd6f"/>
<path d="M253.6 503.2C253 497.95 251.12 481.62 250 471.7C248.88 461.78 248.9 457.32 246.9 443.7C244.9 430.08 241.02 408.12 238 390C234.98 371.88 231.05 349.05 228.8 335C226.55 320.95 226.2 314.5 224.5 305.7C222.8 296.9 220.57 289.03 218.6 282.2C216.63 275.37 215.72 272.9 212.7 264.7C209.68 256.5 204.88 243.15 200.5 233C196.12 222.85 191.45 212.97 186.4 203.8C181.35 194.63 172.9 182.3 170.2 178" fill="none" stroke="#75bd6f" stroke-width="3.5"/>
<path d="M256.95 503.2C257.55 497.95 259.43 481.62 260.55 471.7C261.67 461.78 261.65 457.32 263.65 443.7C265.65 430.08 269.53 408.12 272.55 390C275.57 371.88 279.5 349.05 281.75 335C284 320.95 284.35 314.5 286.05 305.7C287.75 296.9 289.98 289.03 291.95 282.2C293.92 275.37 294.83 272.9 297.85 264.7C300.87 256.5 305.67 243.15 310.05 233C314.43 222.85 319.1 212.97 324.15 203.8C329.2 194.63 337.65 182.3 340.35 178" fill="none" stroke="#75bd6f" stroke-width="3.5"/>
<path d="M160.3 164.3L177.67 175.19L169.55 177.11L165.19 184.21Z" fill="#75bd6f"/>
<path d="M350.25 164.3L345.36 184.21L341 177.11L332.88 175.19Z" fill="#75bd6f"/>
<path d="M42.1 92V503.1H472" fill="none" stroke="#75bd6f" stroke-width="3.3" stroke-linejoin="miter"/><path d="M42.1 83l-4.3 10.8h8.6z" fill="#75bd6f"/><path d="M481 503.1l-10.8 -4.3v8.6z" fill="#75bd6f"/>
<text transform="translate(76 126.6) scale(0.62 1)" font-size="17.3" fill="#231f20" font-weight="bold" textLength="38.39" lengthAdjust="spacing" stroke="#231f20" stroke-width="0.8" vector-effect="non-scaling-stroke">KEY</text><circle cx="84.8" cy="145.3" r="8.6" fill="#fff"/><circle cx="84.8" cy="145.3" r="7.7" fill="#7dc57f"/><path d="M77.1 145.3a7.7 7.7 0 0 1 15.4 0z" fill="#90cf91"/><text transform="translate(100.2 150.6) scale(0.9 1)" font-size="13.6" fill="#231f20" textLength="24.56" lengthAdjust="spacing" stroke="#231f20" stroke-width="0.7" vector-effect="non-scaling-stroke">13g</text><circle cx="84.8" cy="169.85" r="8.6" fill="#fff"/><circle cx="84.8" cy="169.85" r="7.7" fill="#b4b9c1"/><path d="M77.1 169.85a7.7 7.7 0 0 1 15.4 0z" fill="#c3c7cd"/><text transform="translate(100.2 175.15) scale(0.9 1)" font-size="13.6" fill="#231f20" textLength="16.22" lengthAdjust="spacing" stroke="#231f20" stroke-width="0.7" vector-effect="non-scaling-stroke">3g</text><circle cx="84.8" cy="194.4" r="8.6" fill="#fff"/><circle cx="84.8" cy="194.4" r="7.7" fill="#4a4647"/><path d="M77.1 194.4a7.7 7.7 0 0 1 15.4 0z" fill="#555152"/><text transform="translate(100.2 199.7) scale(0.9 1)" font-size="13.6" fill="#231f20" textLength="16.22" lengthAdjust="spacing" stroke="#231f20" stroke-width="0.7" vector-effect="non-scaling-stroke">8g</text>
<text transform="translate(30.1 358.2) rotate(-90) scale(0.82 1)" font-size="15.8" fill="#231f20" textLength="141.46" lengthAdjust="spacing" stroke="#231f20" stroke-width="0.75" vector-effect="non-scaling-stroke">LAUNCH &amp; SPIN</text><text transform="translate(28.2 162.2) rotate(-90) scale(0.82 1)" font-size="13.2" fill="#75bd6f" font-style="italic" textLength="66.22" lengthAdjust="spacing" stroke="#75bd6f" stroke-width="0.45" vector-effect="non-scaling-stroke">MID-LOW</text><text transform="translate(30.1 487.7) rotate(-90) scale(0.82 1)" font-size="13.2" fill="#75bd6f" font-style="italic" textLength="32.56" lengthAdjust="spacing" stroke="#75bd6f" stroke-width="0.45" vector-effect="non-scaling-stroke">LOW</text><text transform="translate(207.9 528.4) scale(0.82 1)" font-size="15.8" fill="#231f20" textLength="117.07" lengthAdjust="spacing" stroke="#231f20" stroke-width="0.75" vector-effect="non-scaling-stroke">BALL FLIGHT</text><text transform="translate(58.1 524.7) scale(0.82 1)" font-size="13.2" fill="#75bd6f" font-style="italic" textLength="44.76" lengthAdjust="spacing" stroke="#75bd6f" stroke-width="0.45" vector-effect="non-scaling-stroke">DRAW</text><text transform="translate(420.2 524.7) scale(0.82 1)" font-size="13.2" fill="#75bd6f" font-style="italic" textLength="38.54" lengthAdjust="spacing" stroke="#75bd6f" stroke-width="0.45" vector-effect="non-scaling-stroke">FADE</text>
<g transform="translate(222.1 127.7)"><rect width="66" height="36" fill="#75bd6f"/><text transform="translate(18.85 12.1) scale(.86 1)" font-size="10.75" stroke="#fff" stroke-width=".4" vector-effect="non-scaling-stroke" fill="#fff" textLength="33.14" lengthAdjust="spacing">BACK</text><use href="#fw"/><circle cx="-9" cy="45.2" r="8.9" fill="#fff"/><circle cx="-9" cy="45.2" r="7.35" fill="#6dba6b"/><circle cx="-9" cy="45.2" r="3.82" fill="#66b365" stroke="#5cab5c" stroke-width=".8"/><path d="M-16.35 45.2a7.35 7.35 0 0 1 14.7 0z" fill="#93d293" opacity=".4" transform="rotate(-35 -9 45.2)"/><circle cx="48.2" cy="42.3" r="9.7" fill="#fff"/><circle cx="48.2" cy="42.3" r="8.15" fill="#b4b9bf"/><circle cx="48.2" cy="42.3" r="4.24" fill="#aeb3b9" stroke="#a0a5ab" stroke-width=".8"/><path d="M40.05 42.3a8.15 8.15 0 0 1 16.3 0z" fill="#d2d6db" opacity=".5" transform="rotate(-35 48.2 42.3)"/><circle cx="31.2" cy="81.5" r="9.5" fill="#fff"/><circle cx="31.2" cy="81.5" r="7.95" fill="#b4b9bf"/><circle cx="31.2" cy="81.5" r="4.13" fill="#aeb3b9" stroke="#a0a5ab" stroke-width=".8"/><path d="M23.25 81.5a7.95 7.95 0 0 1 15.9 0z" fill="#d2d6db" opacity=".5" transform="rotate(-35 31.2 81.5)"/></g>
<g transform="translate(144.15 203.9)"><rect width="66" height="36" fill="#75bd6f"/><text transform="translate(6.9 12.1) scale(.86 1)" font-size="10.75" stroke="#fff" stroke-width=".4" vector-effect="non-scaling-stroke" fill="#fff" textLength="60.93" lengthAdjust="spacing">MID-HEEL</text><use href="#fw"/><circle cx="-9" cy="45.2" r="8.9" fill="#fff"/><circle cx="-9" cy="45.2" r="7.35" fill="#2b2526"/><circle cx="-9" cy="45.2" r="3.82" fill="#262021" stroke="#3d3637" stroke-width=".8"/><path d="M-16.35 45.2a7.35 7.35 0 0 1 14.7 0z" fill="#5a5556" opacity=".25" transform="rotate(-35 -9 45.2)"/><circle cx="48.2" cy="42.3" r="9.7" fill="#fff"/><circle cx="48.2" cy="42.3" r="8.15" fill="#b4b9bf"/><circle cx="48.2" cy="42.3" r="4.24" fill="#aeb3b9" stroke="#a0a5ab" stroke-width=".8"/><path d="M40.05 42.3a8.15 8.15 0 0 1 16.3 0z" fill="#d2d6db" opacity=".5" transform="rotate(-35 48.2 42.3)"/><circle cx="31.2" cy="81.5" r="9.5" fill="#fff"/><circle cx="31.2" cy="81.5" r="7.95" fill="#2b2526"/><circle cx="31.2" cy="81.5" r="4.13" fill="#262021" stroke="#3d3637" stroke-width=".8"/><path d="M23.25 81.5a7.95 7.95 0 0 1 15.9 0z" fill="#5a5556" opacity=".25" transform="rotate(-35 31.2 81.5)"/></g>
<g transform="translate(295 203.9)"><rect width="66" height="36" fill="#75bd6f"/><text transform="translate(10.45 12.1) scale(.86 1)" font-size="10.75" stroke="#fff" stroke-width=".4" vector-effect="non-scaling-stroke" fill="#fff" textLength="52.67" lengthAdjust="spacing">MID-TOE</text><use href="#fw"/><circle cx="-9" cy="45.2" r="8.9" fill="#fff"/><circle cx="-9" cy="45.2" r="7.35" fill="#2b2526"/><circle cx="-9" cy="45.2" r="3.82" fill="#262021" stroke="#3d3637" stroke-width=".8"/><path d="M-16.35 45.2a7.35 7.35 0 0 1 14.7 0z" fill="#5a5556" opacity=".25" transform="rotate(-35 -9 45.2)"/><circle cx="48.2" cy="42.3" r="9.7" fill="#fff"/><circle cx="48.2" cy="42.3" r="8.15" fill="#2b2526"/><circle cx="48.2" cy="42.3" r="4.24" fill="#262021" stroke="#3d3637" stroke-width=".8"/><path d="M40.05 42.3a8.15 8.15 0 0 1 16.3 0z" fill="#5a5556" opacity=".25" transform="rotate(-35 48.2 42.3)"/><circle cx="31.2" cy="81.5" r="9.5" fill="#fff"/><circle cx="31.2" cy="81.5" r="7.95" fill="#b4b9bf"/><circle cx="31.2" cy="81.5" r="4.13" fill="#aeb3b9" stroke="#a0a5ab" stroke-width=".8"/><path d="M23.25 81.5a7.95 7.95 0 0 1 15.9 0z" fill="#d2d6db" opacity=".5" transform="rotate(-35 31.2 81.5)"/></g>
<g transform="translate(71.1 291.2)"><rect width="66" height="36" fill="#75bd6f"/><text transform="translate(19.35 12.1) scale(.86 1)" font-size="10.75" stroke="#fff" stroke-width=".4" vector-effect="non-scaling-stroke" fill="#fff" textLength="31.98" lengthAdjust="spacing">HEEL</text><use href="#fw"/><circle cx="-9" cy="45.2" r="8.9" fill="#fff"/><circle cx="-9" cy="45.2" r="7.35" fill="#b4b9bf"/><circle cx="-9" cy="45.2" r="3.82" fill="#aeb3b9" stroke="#a0a5ab" stroke-width=".8"/><path d="M-16.35 45.2a7.35 7.35 0 0 1 14.7 0z" fill="#d2d6db" opacity=".5" transform="rotate(-35 -9 45.2)"/><circle cx="48.2" cy="42.3" r="9.7" fill="#fff"/><circle cx="48.2" cy="42.3" r="8.15" fill="#b4b9bf"/><circle cx="48.2" cy="42.3" r="4.24" fill="#aeb3b9" stroke="#a0a5ab" stroke-width=".8"/><path d="M40.05 42.3a8.15 8.15 0 0 1 16.3 0z" fill="#d2d6db" opacity=".5" transform="rotate(-35 48.2 42.3)"/><circle cx="31.2" cy="81.5" r="9.5" fill="#fff"/><circle cx="31.2" cy="81.5" r="7.95" fill="#6dba6b"/><circle cx="31.2" cy="81.5" r="4.13" fill="#66b365" stroke="#5cab5c" stroke-width=".8"/><path d="M23.25 81.5a7.95 7.95 0 0 1 15.9 0z" fill="#93d293" opacity=".4" transform="rotate(-35 31.2 81.5)"/></g>
<g transform="translate(373.25 291)"><rect width="66" height="36" fill="#75bd6f"/><text transform="translate(22.9 12.1) scale(.86 1)" font-size="10.75" stroke="#fff" stroke-width=".4" vector-effect="non-scaling-stroke" fill="#fff" textLength="23.72" lengthAdjust="spacing">TOE</text><use href="#fw"/><circle cx="-9" cy="45.2" r="8.9" fill="#fff"/><circle cx="-9" cy="45.2" r="7.35" fill="#b4b9bf"/><circle cx="-9" cy="45.2" r="3.82" fill="#aeb3b9" stroke="#a0a5ab" stroke-width=".8"/><path d="M-16.35 45.2a7.35 7.35 0 0 1 14.7 0z" fill="#d2d6db" opacity=".5" transform="rotate(-35 -9 45.2)"/><circle cx="48.2" cy="42.3" r="9.7" fill="#fff"/><circle cx="48.2" cy="42.3" r="8.15" fill="#6dba6b"/><circle cx="48.2" cy="42.3" r="4.24" fill="#66b365" stroke="#5cab5c" stroke-width=".8"/><path d="M40.05 42.3a8.15 8.15 0 0 1 16.3 0z" fill="#93d293" opacity=".4" transform="rotate(-35 48.2 42.3)"/><circle cx="31.2" cy="81.5" r="9.5" fill="#fff"/><circle cx="31.2" cy="81.5" r="7.95" fill="#b4b9bf"/><circle cx="31.2" cy="81.5" r="4.13" fill="#aeb3b9" stroke="#a0a5ab" stroke-width=".8"/><path d="M23.25 81.5a7.95 7.95 0 0 1 15.9 0z" fill="#d2d6db" opacity=".5" transform="rotate(-35 31.2 81.5)"/></g>
<g transform="translate(222.3 335.2)"><rect width="66" height="36" fill="#75bd6f"/><text transform="translate(6.3 12.1) scale(.86 1)" font-size="10.75" stroke="#fff" stroke-width=".4" vector-effect="non-scaling-stroke" fill="#fff" textLength="62.33" lengthAdjust="spacing">FORWARD</text><use href="#fw"/><circle cx="-9" cy="45.2" r="8.9" fill="#fff"/><circle cx="-9" cy="45.2" r="7.35" fill="#b4b9bf"/><circle cx="-9" cy="45.2" r="3.82" fill="#aeb3b9" stroke="#a0a5ab" stroke-width=".8"/><path d="M-16.35 45.2a7.35 7.35 0 0 1 14.7 0z" fill="#d2d6db" opacity=".5" transform="rotate(-35 -9 45.2)"/><circle cx="48.2" cy="42.3" r="9.7" fill="#fff"/><circle cx="48.2" cy="42.3" r="8.15" fill="#2b2526"/><circle cx="48.2" cy="42.3" r="4.24" fill="#262021" stroke="#3d3637" stroke-width=".8"/><path d="M40.05 42.3a8.15 8.15 0 0 1 16.3 0z" fill="#5a5556" opacity=".25" transform="rotate(-35 48.2 42.3)"/><circle cx="31.2" cy="81.5" r="9.5" fill="#fff"/><circle cx="31.2" cy="81.5" r="7.95" fill="#2b2526"/><circle cx="31.2" cy="81.5" r="4.13" fill="#262021" stroke="#3d3637" stroke-width=".8"/><path d="M23.25 81.5a7.95 7.95 0 0 1 15.9 0z" fill="#5a5556" opacity=".25" transform="rotate(-35 31.2 81.5)"/></g>
<path d="M563.58 93V502.75M579.95 93V502.75M596.33 93V502.75M612.7 93V502.75M629.08 93V502.75M645.45 93V502.75M661.83 93V502.75M678.2 93V502.75M694.58 93V502.75M710.95 93V502.75M727.33 93V502.75M743.7 93V502.75M760.08 93V502.75M776.45 93V502.75M792.83 93V502.75M809.2 93V502.75M825.58 93V502.75M841.95 93V502.75M858.33 93V502.75M874.7 93V502.75M891.08 93V502.75M907.45 93V502.75M923.83 93V502.75M940.2 93V502.75M956.58 93V502.75M972.95 93V502.75M547.2 93H972.95M547.2 109.39H972.95M547.2 125.78H972.95M547.2 142.17H972.95M547.2 158.56H972.95M547.2 174.95H972.95M547.2 191.34H972.95M547.2 207.73H972.95M547.2 224.12H972.95M547.2 240.51H972.95M547.2 256.9H972.95M547.2 273.29H972.95M547.2 289.68H972.95M547.2 306.07H972.95M547.2 322.46H972.95M547.2 338.85H972.95M547.2 355.24H972.95M547.2 371.63H972.95M547.2 388.02H972.95M547.2 404.41H972.95M547.2 420.8H972.95M547.2 437.19H972.95M547.2 453.58H972.95M547.2 469.97H972.95M547.2 486.36H972.95" fill="none" stroke="#7dc178" stroke-width="1.05"/>
<path d="M547.1 92V503.1H976.4" fill="none" stroke="#75bd6f" stroke-width="3.3" stroke-linejoin="miter"/><path d="M547.1 83l-4.3 10.8h8.6z" fill="#75bd6f"/><path d="M985.4 503.1l-10.8 -4.3v8.6z" fill="#75bd6f"/>
<text transform="translate(580.7 126.6) scale(0.62 1)" font-size="17.3" fill="#231f20" font-weight="bold" textLength="38.39" lengthAdjust="spacing" stroke="#231f20" stroke-width="0.8" vector-effect="non-scaling-stroke">KEY</text><circle cx="589.5" cy="145.3" r="8.6" fill="#fff"/><circle cx="589.5" cy="145.3" r="7.7" fill="#7dc57f"/><path d="M581.8 145.3a7.7 7.7 0 0 1 15.4 0z" fill="#90cf91"/><text transform="translate(604.9 150.6) scale(0.9 1)" font-size="13.6" fill="#231f20" textLength="24.56" lengthAdjust="spacing" stroke="#231f20" stroke-width="0.7" vector-effect="non-scaling-stroke">13g</text><circle cx="589.5" cy="169.85" r="8.6" fill="#fff"/><circle cx="589.5" cy="169.85" r="7.7" fill="#b4b9c1"/><path d="M581.8 169.85a7.7 7.7 0 0 1 15.4 0z" fill="#c3c7cd"/><text transform="translate(604.9 175.15) scale(0.9 1)" font-size="13.6" fill="#231f20" textLength="16.22" lengthAdjust="spacing" stroke="#231f20" stroke-width="0.7" vector-effect="non-scaling-stroke">3g</text><circle cx="589.5" cy="194.4" r="8.6" fill="#fff"/><circle cx="589.5" cy="194.4" r="7.7" fill="#4a4647"/><path d="M581.8 194.4a7.7 7.7 0 0 1 15.4 0z" fill="#555152"/><text transform="translate(604.9 199.7) scale(0.9 1)" font-size="13.6" fill="#231f20" textLength="16.22" lengthAdjust="spacing" stroke="#231f20" stroke-width="0.7" vector-effect="non-scaling-stroke">8g</text>
<text transform="translate(534.8 358.2) rotate(-90) scale(0.82 1)" font-size="15.8" fill="#231f20" textLength="141.46" lengthAdjust="spacing" stroke="#231f20" stroke-width="0.75" vector-effect="non-scaling-stroke">LAUNCH &amp; SPIN</text><text transform="translate(532.9 162.2) rotate(-90) scale(0.82 1)" font-size="13.2" fill="#75bd6f" font-style="italic" textLength="66.22" lengthAdjust="spacing" stroke="#75bd6f" stroke-width="0.45" vector-effect="non-scaling-stroke">MID-LOW</text><text transform="translate(534.8 487.7) rotate(-90) scale(0.82 1)" font-size="13.2" fill="#75bd6f" font-style="italic" textLength="32.56" lengthAdjust="spacing" stroke="#75bd6f" stroke-width="0.45" vector-effect="non-scaling-stroke">LOW</text><text transform="translate(704 528.4) scale(0.82 1)" font-size="15.8" fill="#231f20" textLength="128.78" lengthAdjust="spacing" stroke="#231f20" stroke-width="0.75" vector-effect="non-scaling-stroke">FORGIVENESS</text><text transform="translate(563 524.7) scale(0.82 1)" font-size="13.2" fill="#75bd6f" font-style="italic" textLength="35.12" lengthAdjust="spacing" stroke="#75bd6f" stroke-width="0.45" vector-effect="non-scaling-stroke">HIGH</text><text transform="translate(904.3 524.7) scale(0.82 1)" font-size="13.2" fill="#75bd6f" font-style="italic" textLength="63.9" lengthAdjust="spacing" stroke="#75bd6f" stroke-width="0.45" vector-effect="non-scaling-stroke">HIGHEST</text>
<g transform="translate(867.1 110.5)"><rect y="-1" width="66" height="31" fill="#75bd6f"/><text transform="translate(18.9 12.1) scale(.86 1)" font-size="10.75" stroke="#fff" stroke-width=".4" vector-effect="non-scaling-stroke" fill="#fff" textLength="33.02" lengthAdjust="spacing">BACK</text><use href="#dr"/><circle cx="-32.4" cy="58.8" r="9.3" fill="#fff"/><circle cx="-32.4" cy="58.8" r="7.75" fill="#6dba6b"/><circle cx="-32.4" cy="58.8" r="4.03" fill="#66b365" stroke="#5cab5c" stroke-width=".8"/><path d="M-40.15 58.8a7.75 7.75 0 0 1 15.5 0z" fill="#93d293" opacity=".4" transform="rotate(-35 -32.4 58.8)"/><circle cx="49.9" cy="77.8" r="10.1" fill="#fff"/><circle cx="49.9" cy="77.8" r="8.55" fill="#b4b9bf"/><circle cx="49.9" cy="77.8" r="4.45" fill="#aeb3b9" stroke="#a0a5ab" stroke-width=".8"/><path d="M41.35 77.8a8.55 8.55 0 0 1 17.1 0z" fill="#d2d6db" opacity=".5" transform="rotate(-35 49.9 77.8)"/></g>
<g transform="translate(740.1 207.7)"><rect y="0" width="66" height="31" fill="#75bd6f"/><text transform="translate(23.6 12.1) scale(.86 1)" font-size="10.75" stroke="#fff" stroke-width=".4" vector-effect="non-scaling-stroke" fill="#fff" textLength="22.09" lengthAdjust="spacing">MID</text><use href="#dr"/><circle cx="-32.4" cy="58.8" r="9.3" fill="#fff"/><circle cx="-32.4" cy="58.8" r="7.75" fill="#2b2526"/><circle cx="-32.4" cy="58.8" r="4.03" fill="#262021" stroke="#3d3637" stroke-width=".8"/><path d="M-40.15 58.8a7.75 7.75 0 0 1 15.5 0z" fill="#5a5556" opacity=".25" transform="rotate(-35 -32.4 58.8)"/><circle cx="49.9" cy="77.8" r="10.1" fill="#fff"/><circle cx="49.9" cy="77.8" r="8.55" fill="#2b2526"/><circle cx="49.9" cy="77.8" r="4.45" fill="#262021" stroke="#3d3637" stroke-width=".8"/><path d="M41.35 77.8a8.55 8.55 0 0 1 17.1 0z" fill="#5a5556" opacity=".25" transform="rotate(-35 49.9 77.8)"/></g>
<g transform="translate(617 301.8)"><rect y="0" width="66" height="31" fill="#75bd6f"/><text transform="translate(6.45 12.1) scale(.86 1)" font-size="10.75" stroke="#fff" stroke-width=".4" vector-effect="non-scaling-stroke" fill="#fff" textLength="61.98" lengthAdjust="spacing">FORWARD</text><use href="#dr"/><circle cx="-32.4" cy="58.8" r="9.3" fill="#fff"/><circle cx="-32.4" cy="58.8" r="7.75" fill="#b4b9bf"/><circle cx="-32.4" cy="58.8" r="4.03" fill="#aeb3b9" stroke="#a0a5ab" stroke-width=".8"/><path d="M-40.15 58.8a7.75 7.75 0 0 1 15.5 0z" fill="#d2d6db" opacity=".5" transform="rotate(-35 -32.4 58.8)"/><circle cx="49.9" cy="77.8" r="10.1" fill="#fff"/><circle cx="49.9" cy="77.8" r="8.55" fill="#6dba6b"/><circle cx="49.9" cy="77.8" r="4.45" fill="#66b365" stroke="#5cab5c" stroke-width=".8"/><path d="M41.35 77.8a8.55 8.55 0 0 1 17.1 0z" fill="#93d293" opacity=".4" transform="rotate(-35 49.9 77.8)"/></g>
</svg>
</body></html>
